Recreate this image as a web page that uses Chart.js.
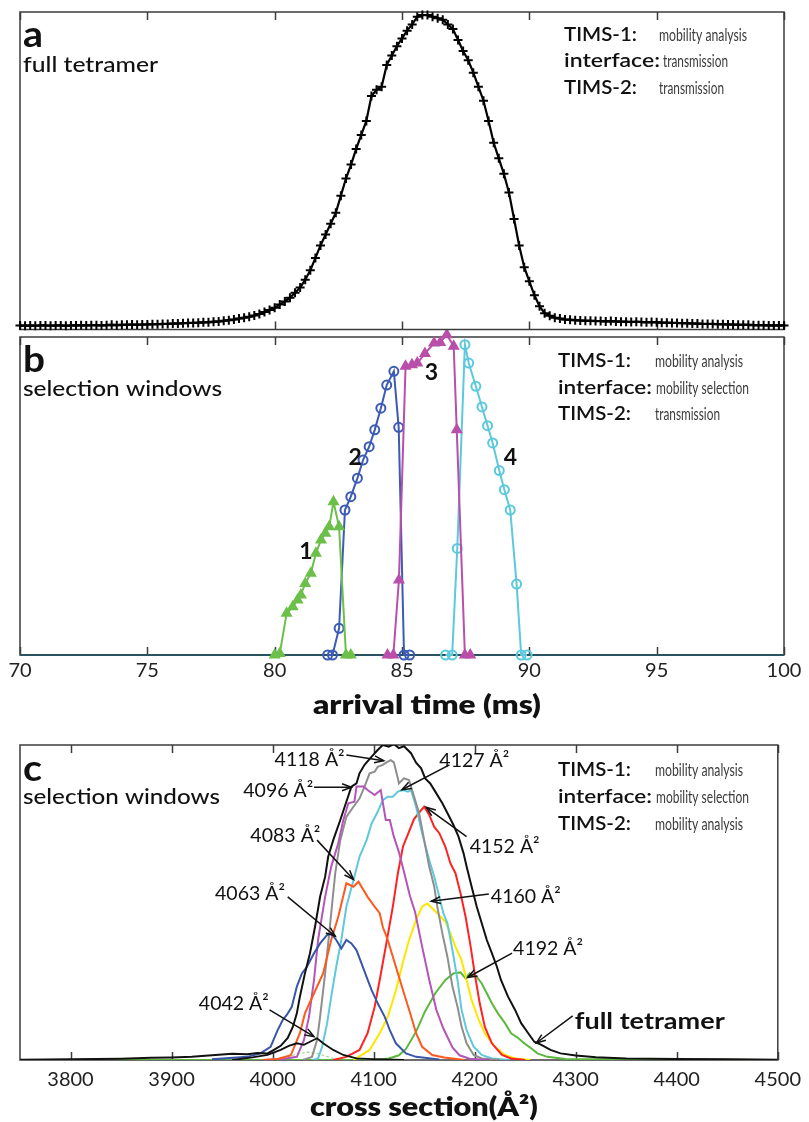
<!DOCTYPE html>
<html><head><meta charset="utf-8">
<script src="https://cdn.jsdelivr.net/npm/chart.js@4.4.1/dist/chart.umd.min.js"></script>
<style>
html,body{margin:0;padding:0;background:#fff;width:809px;height:1122px;overflow:hidden;position:relative}
canvas{position:absolute;left:0}
</style></head><body>
<canvas id="cc" width="809" height="394" style="top:728px"></canvas>
<canvas id="cb" width="809" height="392" style="top:330px"></canvas>
<canvas id="ca" width="809" height="336" style="top:0px"></canvas>
<script>
// ---------- DATA ----------
// panel a : full tetramer, arrival time (ms) vs intensity
const timeA = [70,70.2,70.4,70.6,70.8,71,71.2,71.4,71.6,71.8,72,72.2,72.4,72.6,72.8,73,73.2,73.4,73.6,73.8,74,74.2,74.4,74.6,74.8,
75,75.2,75.4,75.6,75.8,76,76.2,76.4,76.6,76.8,77,77.2,77.4,77.6,77.8,78,78.2,78.4,78.6,78.8,79,79.2,79.4,79.6,79.8,
80,80.2,80.4,80.6,80.8,81,81.2,81.4,81.6,81.8,82,82.2,82.4,82.6,82.8,83,83.2,83.4,83.6,83.8,84,84.2,84.4,84.6,84.8,
85,85.2,85.4,85.6,85.8,86,86.2,86.4,86.6,86.8,87,87.2,87.4,87.6,87.8,88,88.2,88.4,88.6,88.8,89,89.2,89.4,89.6,89.8,
90,90.2,90.4,90.6,90.8,91,91.2,91.4,91.6,91.8,92,92.2,92.4,92.6,92.8,93,93.2,93.4,93.6,93.8,94,94.2,94.4,94.6,94.8,
95,95.2,95.4,95.6,95.8,96,96.2,96.4,96.6,96.8,97,97.2,97.4,97.6,97.8,98,98.2,98.4,98.6,98.8,99,99.2,99.4,99.6,99.8,100];
const intensityA = [0.3,0.2,0.3,0.2,0.3,0.3,0.2,0.3,0.3,0.2,0.3,0.3,0.4,0.3,0.4,0.4,0.3,0.4,0.5,0.4,0.5,0.5,0.6,0.5,0.6,
0.6,0.7,0.7,0.8,0.8,0.9,0.9,1.0,1.1,1.1,1.2,1.3,1.3,1.5,1.6,1.8,2.0,2.2,2.5,2.8,3.1,3.5,4.0,4.6,5.3,
6.0,7.0,8.0,9.2,10.8,12.5,15.0,18.0,22.0,26.0,29.5,33.0,36.5,42.0,47.5,52.0,57.0,61.5,66.0,74.0,76.0,77.0,84.0,87.0,90.0,
92.5,95.0,97.0,99.5,100,100,99.5,99.0,98.5,97.0,95.5,92.0,88.5,85.5,81.5,77.0,72.5,66.0,59.0,54.0,49.0,43.0,34.5,26.0,19.0,
14.5,10.0,6.5,4.2,3.4,2.8,2.5,2.2,2.1,2.0,1.9,1.8,1.8,1.7,1.7,1.6,1.7,1.6,1.5,1.5,1.4,1.5,1.4,1.3,1.4,
1.3,1.2,1.2,1.1,1.1,1.0,1.0,0.9,0.9,0.8,0.8,0.8,0.7,0.7,0.6,0.6,0.5,0.5,0.5,0.4,0.4,0.4,0.3,0.3,0.3,0.3];

// panel b : selection windows 1-4
const t1 = [80.0,80.2,80.47,80.71,80.9,81.03,81.2,81.42,81.62,81.82,81.99,82.14,82.31,82.53,82.8,82.99];
const i1 = [0,0.5,13.1,15.2,17.3,18.9,22.5,25.7,32.0,36.2,38.3,40.3,48.2,40.3,0,0];
const t2 = [82.08,82.27,82.53,82.76,82.99,83.25,83.47,83.71,83.93,84.17,84.4,84.68,84.87,85.08,85.3];
const i2 = [0,0,8.4,45.6,49.8,55.6,61.3,65.5,70.8,77.6,84.9,89.2,71.6,0,0];
const t3 = [84.43,84.66,84.88,85.14,85.39,85.6,85.9,86.26,86.5,86.76,87.03,87.15,87.47,87.68];
const i3 = [0,0,23.6,90.8,91.3,91.8,94.8,98.1,98.3,100.7,97.1,70.8,0,0];
const t4 = [86.71,86.97,87.17,87.47,87.62,87.9,88.14,88.36,88.56,88.82,89.02,89.25,89.5,89.68,89.91];
const i4 = [0,0,33.5,97.6,91.8,84.5,78.0,72.1,66.7,58.0,52.0,45.6,22.3,0,0];
const windowNames = ['1','2','3','4'];

// panel c : cross section (Å²) distributions
const csFull = [3750,3800,3850,3880,3900,3920,3940,3960,3975,3985,3995,4000,4008,4015,4020,4024,4027,4032,4037,4042,
4047,4052,4055,4060,4067,4073,4078,4083,4086,4091,4098,4104,4109,4115,4120,4125,4130,4137,4142,4147,
4151,4156,4161,4168,4174,4179,4184,4189,4192,4197,4202,4207,4212,4217,4222,4226,4233,4240,4246,4253,
4259,4266,4275,4285,4300,4320,4350,4400,4450,4500];
const full = [0.1,0.2,0.4,0.7,0.8,1.0,1.5,2.0,1.8,2.2,2.1,3.0,4.5,7.0,10.5,14.8,20.1,27.5,33.9,42.3,
51.8,58.2,64.5,69.8,76.2,82.0,86.8,87.8,91.0,93.7,96.3,98.4,100.0,99.5,100.3,99.0,99.6,97.4,94.4,92.6,
89.4,87.8,85.2,81.5,77.8,74.6,70.9,65.6,61.4,55.0,48.7,43.4,38.1,33.9,29.6,25.4,20.1,15.9,11.7,8.5,
5.8,4.8,3.2,2.1,1.4,0.9,0.5,0.3,0.2,0.1];
const cs42 = [3960,3980,3995,4008,4016,4024,4031,4037,4044,4050,4060,4070,4083,4100,4130];
const v42 = [0,0.8,1.6,3.2,4.5,5.3,4.8,5.8,6.9,5.3,3.2,1.6,0.5,0.3,0];
const csFaint = [4000,4015,4025,4035,4045,4055,4065];
const vFaint = [0,1.0,2.0,2.5,2.0,1.0,0];
const cs63 = [3940,3975,3988,3998,4005,4010,4014,4019,4024,4029,4034,4041,4047,4054,4058,4063,4068,4073,4078,4083,4088,4093,4098,4104,4111,4116,4122,4132,4142,4165];
const v63 = [0.2,1.0,2.1,4.2,9.5,12.7,14.3,16.9,23.3,27.5,29.6,33.9,37.0,39.7,40.2,38.1,35.4,38.1,37.0,34.9,30.7,26.4,22.2,18.0,13.7,9.5,5.3,2.1,1.0,0.2];
const cs83 = [3990,4005,4018,4027,4032,4041,4050,4058,4065,4073,4080,4085,4094,4101,4106,4109,4114,4119,4124,4130,4136,4142,4148,4158,4170,4190];
const v83 = [0,0.3,1.5,8.5,14.8,21.2,27.5,38.1,45.5,56.1,55.0,56.6,51.8,48.7,46.6,42.3,38.1,32.8,27.5,21.2,15.0,8.5,4.2,1.6,0.8,0];
const cs96 = [3990,4010,4024,4031,4036,4041,4045,4052,4058,4065,4070,4075,4081,4083,4090,4094,4101,4107,4112,4116,4120,4125,4131,4136,4141,4148,4155,4162,4169,4178,4185,4195,4215];
const v96 = [0,0.3,1.0,6.3,13.7,25.4,38.1,51.8,61.4,68.8,76.2,81.5,82.0,86.8,86.8,85.7,84.1,85.7,76.2,76.2,70.9,66.0,58.5,52.0,47.0,36.0,25.5,16.0,10.0,4.0,1.5,0.4,0];
const cs18 = [4030,4039,4044,4047,4052,4057,4062,4067,4073,4080,4086,4091,4096,4101,4104,4109,4114,4117,4120,4124,4125,4130,4135,4140,4145,4150,4155,4160,4163,4168,4173,4178,4183,4187,4192,4199,4207,4225];
const v18 = [0,1.0,6.3,13.7,27.5,43.4,59.3,69.8,77.2,80.4,83.0,86.8,91.0,91.5,93.1,93.7,94.7,95.2,94.5,89.4,87.8,89.4,88.9,83.6,78.3,69.8,61.4,55.0,48.7,40.2,32.8,23.3,16.9,10.6,5.3,1.6,0.5,0];
const cs27 = [4040,4045,4049,4054,4058,4063,4068,4073,4080,4086,4093,4098,4104,4109,4114,4119,4124,4129,4134,4137,4142,4148,4155,4160,4165,4169,4173,4178,4183,4187,4192,4199,4207,4217,4235];
const v27 = [0,0.5,4.2,11.7,20.1,29.6,38.1,48.7,57.1,64.5,69.8,75.1,78.8,82.5,83.6,83.6,85.2,85.7,85.2,85.7,80.4,72.0,63.5,58.2,51.8,46.6,43.4,34.9,25.4,15.9,9.5,4.2,1.6,0.5,0];
const cs52 = [4060,4073,4086,4094,4101,4106,4112,4119,4124,4129,4135,4140,4145,4150,4155,4160,4165,4171,4176,4181,4186,4191,4196,4200,4205,4210,4217,4227,4236,4250];
const v52 = [0,1.0,3.2,8.5,16.9,25.4,36.0,48.7,59.3,67.7,72.5,76.5,78.5,80.4,77.8,74.0,72.0,67.7,62.4,59.3,52.9,45.5,36.0,27.5,18.0,10.6,5.3,1.6,0.5,0];
const cs60 = [4080,4096,4106,4114,4122,4129,4135,4142,4148,4153,4158,4163,4171,4176,4181,4187,4192,4197,4204,4210,4220,4230,4240,4255];
const v60 = [0,3.2,8.5,13.7,22.0,31.0,38.0,44.5,48.7,49.7,48.2,46.6,43.9,40.2,36.0,31.7,25.4,19.0,12.7,8.5,4.2,1.6,0.5,0];
const cs92 = [3750,4100,4115,4125,4132,4142,4151,4161,4171,4179,4186,4191,4195,4202,4207,4212,4217,4223,4230,4236,4243,4249,4256,4262,4272,4290,4500];
const v92 = [0,0,0.5,1.5,3.5,9.0,15.5,21.2,25.4,27.5,27.8,25.9,27.5,26.4,24.3,21.2,18.0,14.8,11.7,8.5,7.0,5.3,3.7,2.1,1.0,0.3,0];
const peakLabels = ['4118 Å²','4096 Å²','4083 Å²','4063 Å²','4042 Å²','4127 Å²','4152 Å²','4160 Å²','4192 Å²','full tetramer'];

// tick labels
const xTicksAB = [70,75,80,85,90,95,100];
const xTicksC = [3800,3900,4000,4100,4200,4300,4400,4500];
const titleAB = 'arrival time (ms)';
const titleC = 'cross section(Å²)';

// ---------- HELPERS ----------
const FONT = 'Lato, "Open Sans", "DejaVu Sans", sans-serif';
const pts = (xs, ys) => xs.map((x, i) => ({x, y: ys[i]}));

// draw text starting at (x,y), stretched/condensed horizontally to a target width
function fitText(ctx, text, x, y, font, width, align) {
  ctx.font = font;
  const w = ctx.measureText(text).width;
  const s = width ? width / w : 1;
  const left = align === 'center' ? x - (w * s) / 2 : x;
  ctx.save();
  ctx.translate(left, y); ctx.scale(s, 1);
  ctx.textAlign = 'left';
  ctx.fillText(text, 0, 0);
  ctx.restore();
}

function framePlugin(tickVals, bottomColor) {
  return {
    id: 'frame',
    beforeDatasetsDraw(chart) {
      const {ctx, chartArea: a} = chart, x = chart.scales.x;
      ctx.save();
      ctx.strokeStyle = '#3c3c3c'; ctx.lineWidth = 1.5;
      ctx.strokeRect(a.left, a.top, a.right - a.left, a.bottom - a.top);
      ctx.beginPath();
      tickVals.forEach(v => {
        const px = Math.round(x.getPixelForValue(v)) + 0.5;
        ctx.moveTo(px, a.top); ctx.lineTo(px, a.top + 8);
        ctx.moveTo(px, a.bottom); ctx.lineTo(px, a.bottom - 8);
      });
      ctx.stroke();
      if (bottomColor) {
        ctx.strokeStyle = bottomColor; ctx.lineWidth = 2;
        ctx.beginPath(); ctx.moveTo(a.left, a.bottom); ctx.lineTo(a.right, a.bottom); ctx.stroke();
      }
      ctx.restore();
    }
  };
}

function panelTextPlugin(spec) {
  return {
    id: 'panelText',
    afterDraw(chart) {
      const {ctx, chartArea: a} = chart;
      ctx.save();
      ctx.fillStyle = '#111'; ctx.textBaseline = 'alphabetic'; ctx.textAlign = 'left';
      fitText(ctx, spec.letter, a.left + 3, a.top + spec.letterOff, 'bold 36px ' + FONT, spec.letterW);
      fitText(ctx, spec.sub, a.left + 3, a.top + spec.subOff, '500 21px ' + FONT, spec.subW);
      spec.rows.forEach((r, i) => {
        const y = a.top + spec.rowOffs[i];
        ctx.fillStyle = '#111';
        fitText(ctx, r[0], spec.labelX, y, '600 20px ' + FONT, spec.labelW[i]);
        ctx.fillStyle = '#3a3a3a';
        fitText(ctx, r[1], spec.valueX[i], y, '17px ' + FONT, spec.valueW[i]);
      });
      if (spec.title) {
        ctx.fillStyle = '#111';
        ctx.textBaseline = 'middle';
        fitText(ctx, spec.title, (a.left + a.right) / 2 + 25, a.bottom + spec.titleOff, '800 26px ' + FONT, 228, 'center');
      }
      ctx.restore();
    }
  };
}

function arrow(ctx, x1, y1, x2, y2) {
  const ang = Math.atan2(y2 - y1, x2 - x1), L = 10, w = 0.36;
  ctx.beginPath(); ctx.moveTo(x1, y1); ctx.lineTo(x2, y2); ctx.stroke();
  ctx.beginPath();
  ctx.moveTo(x2 - L * Math.cos(ang - w), y2 - L * Math.sin(ang - w));
  ctx.lineTo(x2, y2);
  ctx.lineTo(x2 - L * Math.cos(ang + w), y2 - L * Math.sin(ang + w));
  ctx.stroke();
}

const baseOpts = (xmin, xmax, ymin, ymax, pad, axisH, showX, tickVals, tickPad) => ({
  responsive: false, animation: false, events: [],
  layout: {padding: pad},
  plugins: {legend: {display: false}, tooltip: {enabled: false}},
  elements: {line: {tension: 0}},
  scales: {
    x: {
      type: 'linear', min: xmin, max: xmax, display: showX,
      grid: {display: false, drawTicks: false}, border: {display: false},
      afterBuildTicks: s => { s.ticks = tickVals.map(v => ({value: v})); },
      afterFit: s => { if (axisH) s.height = axisH; },
      ticks: {autoSkip: false, maxRotation: 0, padding: tickPad, color: '#222',
        font: {family: FONT, size: 20}, callback: v => String(v)}
    },
    y: {type: 'linear', min: ymin, max: ymax, display: false}
  }
});

// ---------- PANEL A ----------
new Chart(document.getElementById('ca'), {
  type: 'line',
  data: {datasets: [{
    data: pts(timeA, intensityA), borderColor: '#000', borderWidth: 2.2,
    pointStyle: 'cross', pointRadius: 4.5, pointBorderWidth: 2, pointBorderColor: '#000', clip: false
  }]},
  options: baseOpts(70, 100, -1, 101, {left: 20, right: 25, top: 12, bottom: 6}, 0, false, xTicksAB, 0),
  plugins: [framePlugin(xTicksAB), panelTextPlugin({
    letter: 'a', letterOff: 35, letterW: 20, sub: 'full tetramer', subOff: 60, subW: 135,
    labelX: 564, valueX: [659, 663, 659], rowOffs: [29, 55, 82], labelW: [73, 96, 73], valueW: [88, 65, 65],
    rows: [['TIMS-1:', 'mobility analysis'], ['interface:', 'transmission'], ['TIMS-2:', 'transmission']]
  })]
});

// ---------- PANEL B ----------
const bLabelPos = [[81.23, 32.5], [83.16, 62], [86.16, 88.7], [89.26, 62]];
new Chart(document.getElementById('cb'), {
  type: 'line',
  data: {datasets: [
    {data: pts(t3, i3), borderColor: '#b94fa9', backgroundColor: '#b94fa9', borderWidth: 2,
     pointStyle: 'triangle', pointRadius: 5, clip: false},
    {data: pts(t1, i1), borderColor: '#6cc04a', backgroundColor: '#6cc04a', borderWidth: 2,
     pointStyle: 'triangle', pointRadius: 5, clip: false},
    {data: pts(t2, i2), borderColor: '#3b5bb5', backgroundColor: 'rgba(0,0,0,0)', borderWidth: 2,
     pointStyle: 'circle', pointRadius: 4.5, pointBorderWidth: 2, clip: false},
    {data: pts(t4, i4), borderColor: '#5cc9dc', backgroundColor: 'rgba(0,0,0,0)', borderWidth: 2,
     pointStyle: 'circle', pointRadius: 4.5, pointBorderWidth: 2, clip: false}
  ]},
  options: baseOpts(70, 100, 0, 100, {left: 20, right: 25, top: 7, bottom: 0}, 67, true, xTicksAB, 4),
  plugins: [framePlugin(xTicksAB, '#2a5360'), panelTextPlugin({
    letter: 'b', letterOff: 35, letterW: 22, sub: 'selection windows', subOff: 59, subW: 199,
    labelX: 558, valueX: [655, 656, 655], rowOffs: [30, 57, 83], labelW: [73, 94, 73], valueW: [88, 93, 65],
    rows: [['TIMS-1:', 'mobility analysis'], ['interface:', 'mobility selection'], ['TIMS-2:', 'transmission']],
    title: titleAB, titleOff: 51
  }), {
    id: 'windowNums',
    afterDraw(chart) {
      const {ctx} = chart, x = chart.scales.x, y = chart.scales.y;
      ctx.save(); ctx.fillStyle = '#111'; ctx.font = 'bold 23px ' + FONT;
      ctx.textAlign = 'center'; ctx.textBaseline = 'middle';
      windowNames.forEach((n, i) => ctx.fillText(n, x.getPixelForValue(bLabelPos[i][0]), y.getPixelForValue(bLabelPos[i][1])));
      ctx.restore();
    }
  }]
});

// ---------- PANEL C ----------
const cAnn = [
  {tx: 4002, ty: 93.3, ax: 4073, ay: 96.8, bx: 4110, by: 95.0},
  {tx: 3971, ty: 83.6, ax: 4041, ay: 86.6, bx: 4078, by: 86.6},
  {tx: 3978, ty: 69.3, ax: 4044, ay: 69.8, bx: 4080, by: 57.3},
  {tx: 3943, ty: 50.8, ax: 4015, ay: 51.8, bx: 4062, by: 39.3},
  {tx: 3927, ty: 15.8, ax: 3997, ay: 15.9, bx: 4041, by: 7.4},
  {tx: 4165, ty: 93.1, ax: 4175, ay: 93.7, bx: 4128, by: 85.8},
  {tx: 4195, ty: 65.6, ax: 4192, ay: 70.9, bx: 4152, by: 80.2},
  {tx: 4216, ty: 49.7, ax: 4214, ay: 52.7, bx: 4157, by: 50.4},
  {tx: 4238, ty: 33.3, ax: 4237, ay: 33.9, bx: 4193, by: 26.2},
  {tx: 4299, ty: 10.0, ax: 4297, ay: 14.0, bx: 4261, by: 5.4, bold: true}
];
const line = (xs, ys, color, w, extra) => Object.assign({data: pts(xs, ys), borderColor: color, borderWidth: w, pointRadius: 0}, extra || {});
new Chart(document.getElementById('cc'), {
  type: 'line',
  data: {datasets: [
    line(csFull, full, '#111', 2),
    line(cs42, v42, '#111', 1.8),
    line(cs63, v63, '#3a56a8', 2),
    line(cs83, v83, '#ff5a1e', 2),
    line(cs96, v96, '#b455b8', 2),
    line(cs18, v18, '#8e8e8e', 2),
    line(cs27, v27, '#5fc8dc', 2),
    line(cs52, v52, '#ff2222', 2),
    line(cs60, v60, '#ffe600', 2),
    line(cs92, v92, '#5cb83c', 2),
    line(csFaint, vFaint, '#a8dc8c', 1.2, {borderDash: [3, 2]})
  ]},
  options: baseOpts(3750, 4500, 0, 100, {left: 20, right: 25, top: 17, bottom: 0}, 62, true, xTicksC, 8),
  plugins: [framePlugin(xTicksC), panelTextPlugin({
    letter: 'c', letterOff: 36, letterW: 19, sub: 'selection windows', subOff: 59, subW: 197,
    labelX: 558, valueX: [655, 656, 655], rowOffs: [31, 58, 85], labelW: [73, 94, 73], valueW: [88, 93, 88],
    rows: [['TIMS-1:', 'mobility analysis'], ['interface:', 'mobility selection'], ['TIMS-2:', 'mobility analysis']],
    title: titleC, titleOff: 48
  }), {
    id: 'peakAnn',
    afterDraw(chart) {
      const {ctx} = chart, x = chart.scales.x, y = chart.scales.y;
      ctx.save(); ctx.strokeStyle = '#111'; ctx.fillStyle = '#111'; ctx.lineWidth = 1.5;
      ctx.textBaseline = 'alphabetic';
      cAnn.forEach((a, i) => {
        if (a.bold) fitText(ctx, peakLabels[i], x.getPixelForValue(a.tx), y.getPixelForValue(a.ty), 'bold 23px ' + FONT, 150);
        else fitText(ctx, peakLabels[i], x.getPixelForValue(a.tx), y.getPixelForValue(a.ty), '20px ' + FONT, 70);
        arrow(ctx, x.getPixelForValue(a.ax), y.getPixelForValue(a.ay), x.getPixelForValue(a.bx), y.getPixelForValue(a.by));
      });
      ctx.restore();
    }
  }]
});
</script>
</body></html>
